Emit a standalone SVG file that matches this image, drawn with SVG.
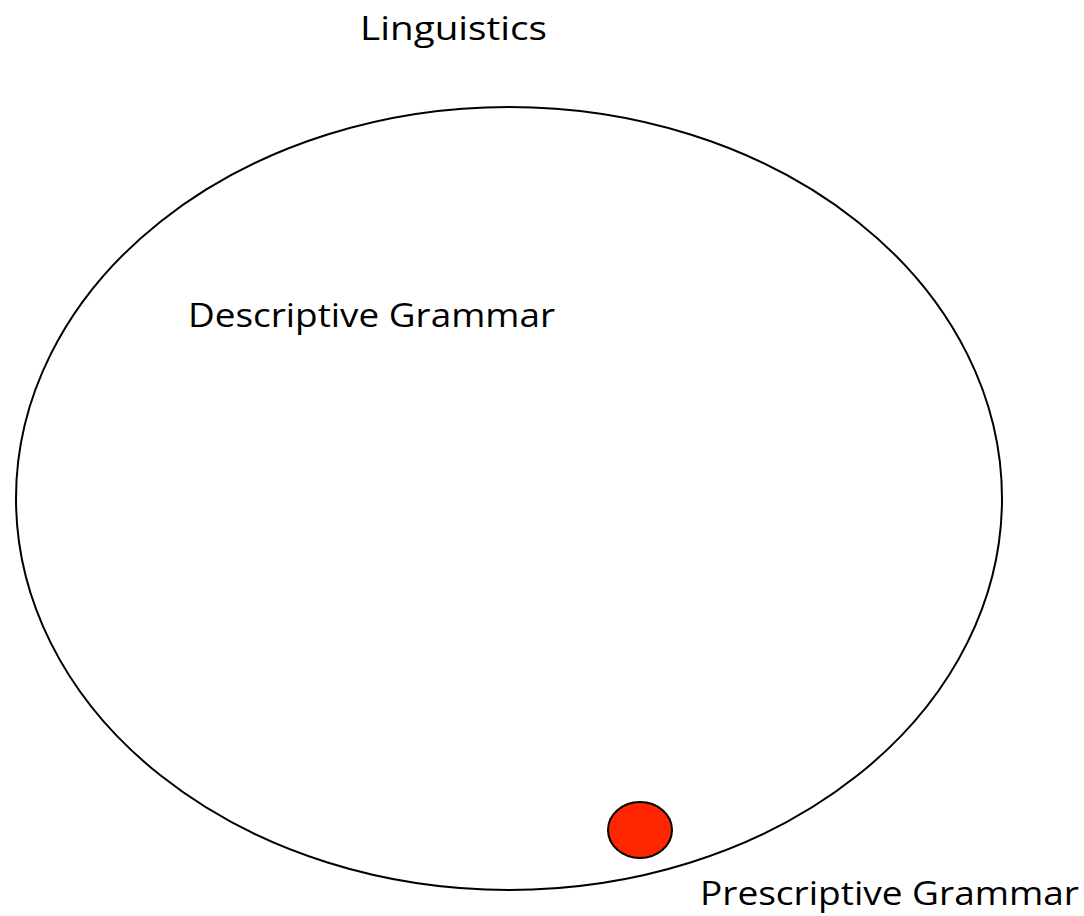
<svg xmlns="http://www.w3.org/2000/svg" width="1084" height="916" viewBox="0 0 1084 916">
<style>
.lbl{font-family:"Open Sans","Noto Sans","Liberation Sans",sans-serif;font-size:33px;fill:#000}
.shape{stroke:#000;stroke-width:2}
</style>
<rect width="1084" height="916" fill="#fff"/>
<g id="linguistics-label"><text class="lbl" x="360" y="40" textLength="187" lengthAdjust="spacingAndGlyphs">Linguistics</text></g>
<g id="descriptive-grammar">
<ellipse class="shape" cx="509" cy="498.5" rx="493" ry="391.5" fill="none"/>
<text class="lbl" x="188" y="327" textLength="367" lengthAdjust="spacingAndGlyphs">Descriptive Grammar</text>
</g>
<g id="prescriptive-grammar">
<ellipse class="shape" cx="640" cy="830" rx="32" ry="28" fill="#ff2600"/>
<text class="lbl" x="700" y="905" textLength="379" lengthAdjust="spacingAndGlyphs">Prescriptive Grammar</text>
</g>
<g id="connectors"></g>
</svg>
